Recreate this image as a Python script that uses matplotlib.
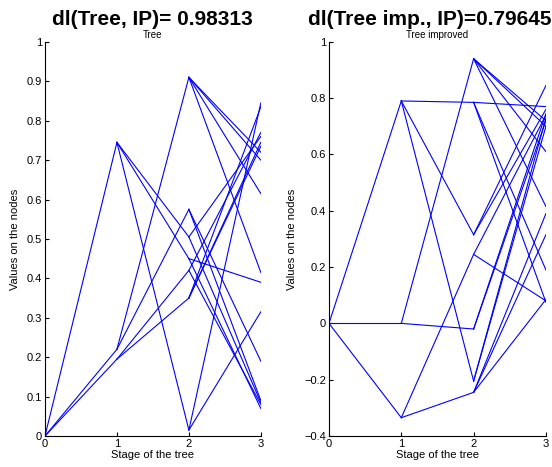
import numpy as np
import matplotlib
matplotlib.use("Agg")
import matplotlib.pyplot as plt

plt.rcParams['font.family'] = ['Liberation Sans', 'DejaVu Sans']

# scenario tree: node values per stage, with the index of the parent node
tree_s1 = [0.745, 0.22, 0.195]
tree_s2 = [0.015, 0.505, 0.45, 0.91, 0.575, 0.42, 0.35]
tree_s2_parent = [0, 0, 0, 1, 1, 2, 2]
tree_s3 = [0.845, 0.315, 0.085, 0.76, 0.07, 0.39,
           0.70, 0.72, 0.615, 0.415, 0.09, 0.19,
           0.77, 0.08, 0.835, 0.745, 0.735]
tree_s3_parent = [0, 0, 1, 1, 2, 2, 3, 3, 3, 3, 4, 4, 5, 5, 6, 6, 6]

imp_s1 = [0.79, 0.0, -0.335]
imp_s2 = [0.785, 0.315, -0.205, 0.94, -0.02, 0.245, -0.245]
imp_s2_parent = [0, 0, 0, 1, 1, 2, 2]
imp_s3 = [0.77, 0.19, 0.075, 0.845, 0.76, 0.73, 0.70,
          0.72, 0.70, 0.61, 0.415, 0.745, 0.72,
          0.08, 0.74, 0.085, 0.315, 0.39]
imp_s3_parent = [0, 0, 0, 1, 1, 2, 2, 3, 3, 3, 3, 4, 4, 5, 5, 6, 6, 6]

dl_tree = 0.98313
dl_imp = 0.79645


def draw_tree(ax, s1, s2, p2, s3, p3):
    for v in s1:
        ax.plot([0, 1], [0, v], color='b', lw=0.8)
    for v, p in zip(s2, p2):
        ax.plot([1, 2], [s1[p], v], color='b', lw=0.8)
    for v, p in zip(s3, p3):
        ax.plot([2, 3], [s2[p], v], color='b', lw=0.8)


def style(ax):
    for s in ['top', 'right']:
        ax.spines[s].set_visible(False)
    ax.tick_params(direction='in', length=3, labelsize=8, pad=2)
    ax.set_xlim(0, 3)
    ax.set_xticks([0, 1, 2, 3])
    ax.set_xlabel('Stage of the tree', fontsize=8, labelpad=1)
    ax.set_ylabel('Values on the nodes', fontsize=8, labelpad=5)


fig = plt.figure(figsize=(5.52, 4.67), dpi=100)

ax1 = fig.add_axes([0.0815, 0.0664, 0.391, 0.844])
draw_tree(ax1, tree_s1, tree_s2, tree_s2_parent, tree_s3, tree_s3_parent)
style(ax1)
ax1.set_ylim(0, 1)
ax1.set_yticks(np.arange(0, 1.01, 0.1))
ax1.set_yticklabels(['0', '0.1', '0.2', '0.3', '0.4', '0.5', '0.6', '0.7', '0.8', '0.9', '1'])
ax1.set_title('Tree', fontsize=7, pad=3)

ax2 = fig.add_axes([0.596, 0.0664, 0.393, 0.844])
draw_tree(ax2, imp_s1, imp_s2, imp_s2_parent, imp_s3, imp_s3_parent)
style(ax2)
ax2.set_ylim(-0.4, 1)
ax2.set_yticks(np.arange(-0.4, 1.01, 0.2))
ax2.set_yticklabels(['\u22120.4', '\u22120.2', '0', '0.2', '0.4', '0.6', '0.8', '1'])
ax2.set_title('Tree improved', fontsize=7, pad=3)

fig.text(0.276, 0.958, 'dl(Tree, IP)= %.5f' % dl_tree, fontsize=15,
         fontweight='bold', ha='center', va='center')
fig.text(0.779, 0.958, 'dl(Tree imp., IP)=%.5f' % dl_imp, fontsize=15,
         fontweight='bold', ha='center', va='center')

fig.savefig('out.png', dpi=100)
